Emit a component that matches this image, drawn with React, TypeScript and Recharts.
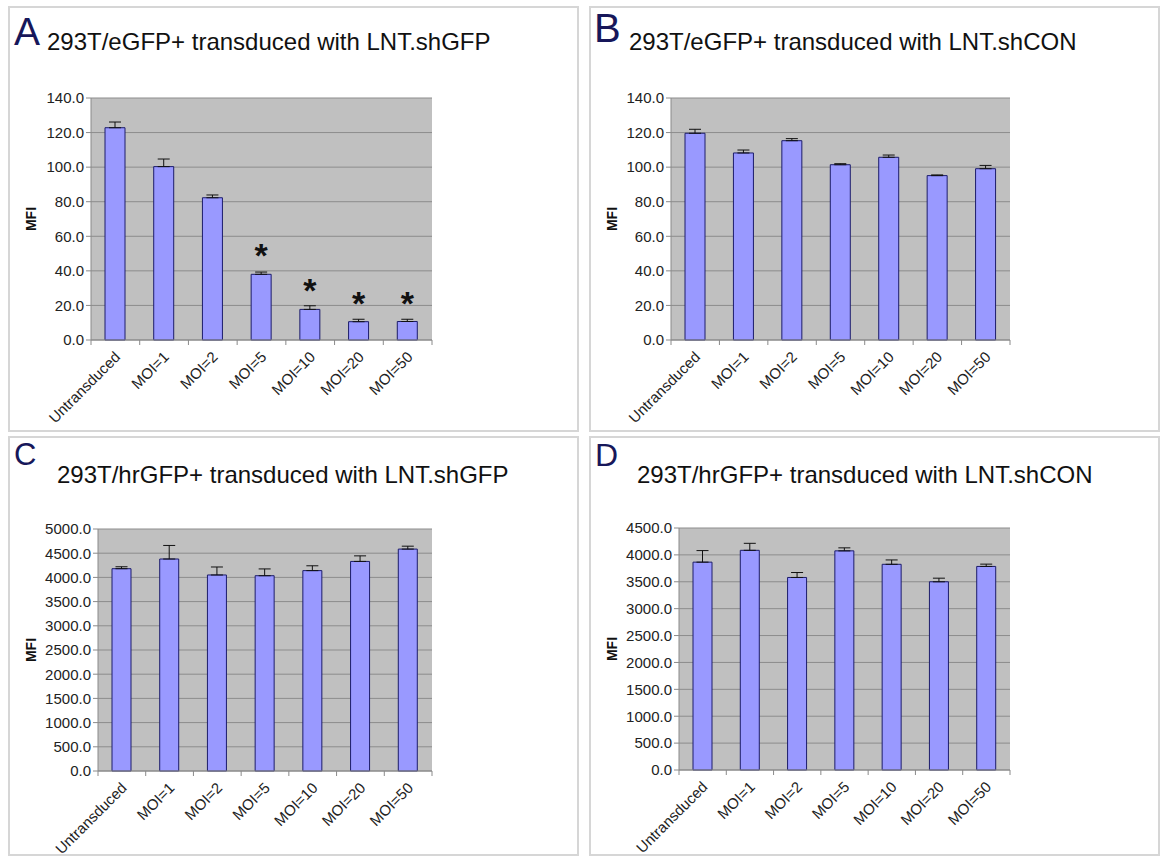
import React from 'react';
import { BarChart, Bar, XAxis, YAxis, CartesianGrid, ErrorBar, LabelList } from 'recharts';

const categories = ['Untransduced', 'MOI=1', 'MOI=2', 'MOI=5', 'MOI=10', 'MOI=20', 'MOI=50'];

// A: 293T/eGFP+ with LNT.shGFP
const aMean = [122.8, 100.3, 82.3, 38.0, 17.7, 10.6, 10.7];
const aErr = [3.3, 4.4, 1.6, 1.3, 2.1, 1.4, 1.3];
const aSig = [false, false, false, true, true, true, true];
const aTicks = [0, 20, 40, 60, 80, 100, 120, 140];

// B: 293T/eGFP+ with LNT.shCON
const bMean = [119.6, 108.2, 115.3, 101.4, 105.7, 95.1, 99.1];
const bErr = [2.3, 1.7, 1.2, 0.6, 1.3, 0.4, 1.9];
const bTicks = [0, 20, 40, 60, 80, 100, 120, 140];

// C: 293T/hrGFP+ with LNT.shGFP
const cMean = [4180, 4380, 4050, 4035, 4140, 4330, 4585];
const cErr = [40, 280, 165, 140, 100, 115, 60];
const cTicks = [0, 500, 1000, 1500, 2000, 2500, 3000, 3500, 4000, 4500, 5000];

// D: 293T/hrGFP+ with LNT.shCON
const dMean = [3865, 4085, 3580, 4075, 3825, 3500, 3785];
const dErr = [215, 130, 92, 56, 81, 67, 43];
const dTicks = [0, 500, 1000, 1500, 2000, 2500, 3000, 3500, 4000, 4500];

const FONT = '"Liberation Sans", Arial, sans-serif';
const AXIS = '#8a8a8a';

const build = (mean: number[], err: number[], sig?: boolean[]) =>
  categories.map((name, i) => ({
    name,
    value: mean[i],
    err: [0, err[i]],
    sig: sig && sig[i] ? '*' : '',
  }));

const panels = [
  { key: 'A', x: 9, y: 7, w: 569, h: 424, l: 82, t: 91, r: 423, b: 333, data: build(aMean, aErr, aSig), ticks: aTicks, barSize: 20,
    title: '293T/eGFP+ transduced with LNT.shGFP', lx: 14, ly: 45, ls: 39, tx: 47, ty: 50 },
  { key: 'B', x: 590, y: 7, w: 569, h: 424, l: 81, t: 91, r: 420, b: 333, data: build(bMean, bErr), ticks: bTicks, barSize: 20,
    title: '293T/eGFP+ transduced with LNT.shCON', lx: 594, ly: 42, ls: 40, tx: 629, ty: 50 },
  { key: 'C', x: 9, y: 437, w: 569, h: 418, l: 89, t: 92, r: 423, b: 334, data: build(cMean, cErr), ticks: cTicks, barSize: 19,
    title: '293T/hrGFP+ transduced with LNT.shGFP', lx: 14, ly: 465, ls: 31, tx: 57, ty: 483 },
  { key: 'D', x: 590, y: 437, w: 569, h: 418, l: 89, t: 91, r: 420, b: 333, data: build(dMean, dErr), ticks: dTicks, barSize: 19,
    title: '293T/hrGFP+ transduced with LNT.shCON', lx: 595, ly: 466, ls: 32, tx: 637, ty: 483 },
];

// category label rotated -45deg, plus Excel-style tick marks between categories
const makeCatTick = (bw: number, axisY: number) => (props: any) => {
  const { x, y, payload, index } = props;
  const px = x + 2;
  const py = y + 6;
  const last = index === categories.length - 1;
  return (
    <g>
      <line x1={x - bw / 2} y1={axisY} x2={x - bw / 2} y2={axisY + 5} stroke={AXIS} />
      {last && <line x1={x + bw / 2} y1={axisY} x2={x + bw / 2} y2={axisY + 5} stroke={AXIS} />}
      <text
        x={px}
        y={py}
        transform={`rotate(-45 ${px} ${py})`}
        textAnchor="end"
        dominantBaseline="central"
        fontSize={15}
        fill="#222"
        fontFamily={FONT}
      >
        {payload.value}
      </text>
    </g>
  );
};

const Star = (props: any) => {
  const { x, y, width, value } = props;
  if (!value) return null;
  return (
    <text x={x + width / 2} y={y - 7} textAnchor="middle" fontSize={34} fontWeight="bold" fill="#111" fontFamily={FONT}>
      {value}
    </text>
  );
};

const Panel = ({ p }: { p: (typeof panels)[number] }) => {
  const catAxisH = 76;
  const extra = 4; // room below the panel so long rotated labels are not clipped
  const bw = (p.r - p.l) / categories.length;
  const CatTick = makeCatTick(bw, p.b);
  return (
    <div style={{ position: 'absolute', left: p.x, top: p.y, width: p.w, height: p.h + extra }}>
      <BarChart
        width={p.w}
        height={p.h + extra}
        data={p.data}
        barSize={p.barSize}
        style={{ overflow: 'visible' }}
        margin={{ top: p.t, right: p.w - p.r, left: 0, bottom: p.h + extra - p.b - catAxisH }}
      >
        <CartesianGrid vertical={false} fill="#c0c0c0" stroke="#8c8c8c" fillOpacity={1} />
        <XAxis dataKey="name" stroke={AXIS} tickLine={false} interval={0} height={catAxisH} tick={<CatTick />} />
        <YAxis
          width={p.l}
          domain={[p.ticks[0], p.ticks[p.ticks.length - 1]]}
          ticks={p.ticks}
          interval={0}
          tickFormatter={(v: number) => v.toFixed(1)}
          tick={{ fontSize: 15, fill: '#222', fontFamily: FONT }}
          tickSize={5}
          stroke={AXIS}
        />
        <Bar dataKey="value" fill="#9999ff" stroke="#1c1c6a" strokeWidth={1} isAnimationActive={false}>
          <ErrorBar dataKey="err" direction="y" width={6} stroke="#111" strokeWidth={1} isAnimationActive={false} />
          <LabelList dataKey="sig" content={<Star />} />
        </Bar>
      </BarChart>
    </div>
  );
};

export default function App() {
  return (
    <div style={{ position: 'absolute', left: 0, top: 0, width: 1163, height: 859, background: '#fff', fontFamily: FONT }}>
      <svg width={1163} height={859} style={{ position: 'absolute', left: 0, top: 0 }}>
        {panels.map((p) => (
          <g key={p.key}>
            <rect x={p.x} y={p.y} width={p.w} height={p.h} fill="none" stroke="#d6d6d6" strokeWidth={2} />
            <text x={p.lx} y={p.ly} fontSize={p.ls} fill="#17175a" fontFamily={FONT}>{p.key}</text>
            <text x={p.tx} y={p.ty} fontSize={24} fill="#111" fontFamily={FONT}>{p.title}</text>
            <text
              x={p.x + 27}
              y={p.y + (p.t + p.b) / 2}
              transform={`rotate(-90 ${p.x + 27} ${p.y + (p.t + p.b) / 2})`}
              textAnchor="middle"
              fontSize={14}
              fontWeight="bold"
              fill="#111"
              fontFamily={FONT}
            >
              MFI
            </text>
          </g>
        ))}
      </svg>
      {panels.map((p) => (
        <Panel key={p.key} p={p} />
      ))}
    </div>
  );
}
